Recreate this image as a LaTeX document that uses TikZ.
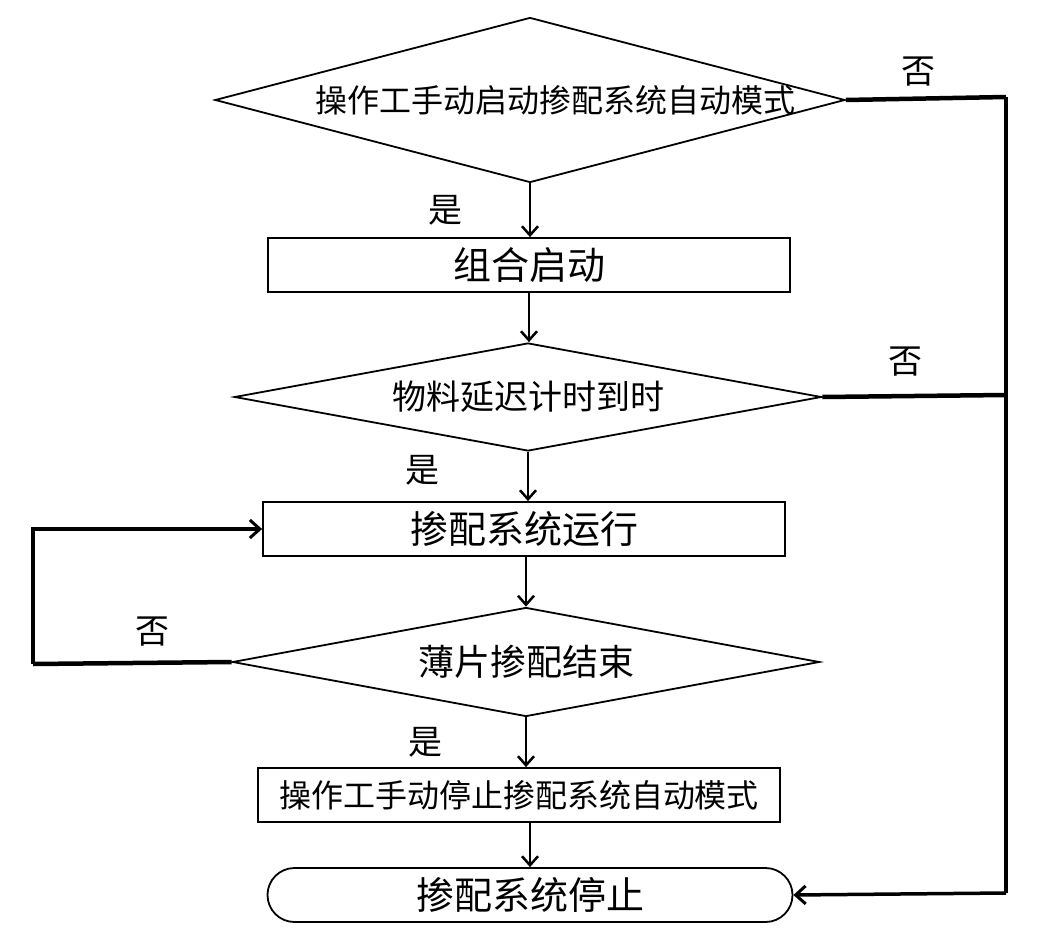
\documentclass[tikz,border=0pt]{standalone}
\usepackage{fontspec}
\setmainfont{Noto Sans CJK SC}
\usetikzlibrary{shapes.geometric,shapes.misc,arrows.meta}
\begin{document}
\begin{tikzpicture}[x=1pt,y=-1pt,
  decision/.style={diamond,draw,line width=1.8pt,inner sep=0pt,aspect=3.8},
  stepbox/.style={rectangle,draw,line width=1.8pt,inner sep=0pt,minimum width=522pt,minimum height=54pt},
  flow/.style={line width=2.5pt,-{Straight Barb[length=9pt,width=16pt,line width=2.5pt]}},
  loopline/.style={line width=4.5pt},
  loopflow/.style={line width=3.5pt,-{Straight Barb[length=10pt,width=18pt,line width=3pt]}},
  answer/.style={inner sep=0pt,font=\fontsize{34}{40}\selectfont}]
\path[use as bounding box] (0,0) rectangle (1045,942);
\node[decision,minimum width=630pt,minimum height=165pt,font=\fontsize{32}{38}\selectfont] (start) at (530,100) {\makebox[0pt]{\hspace*{50pt}操作工手动启动掺配系统自动模式}};
\node[stepbox,font=\fontsize{38}{44}\selectfont] (group) at (529,265) {组合启动};
\node[decision,aspect=5.4,minimum width=587pt,minimum height=108pt,font=\fontsize{34}{40}\selectfont] (delay) at (528,397) {物料延迟计时到时};
\node[stepbox,font=\fontsize{38}{44}\selectfont] (run) at (524,529) {掺配系统运行};
\node[decision,aspect=5.4,minimum width=587pt,minimum height=109pt,font=\fontsize{36}{42}\selectfont] (done) at (526,662) {薄片掺配结束};
\node[stepbox,font=\fontsize{32}{38}\selectfont] (halt) at (519,795) {操作工手动停止掺配系统自动模式};
\node[rounded rectangle,draw,line width=1.8pt,inner sep=0pt,minimum width=525pt,minimum height=54pt,font=\fontsize{38}{44}\selectfont] (stop) at (530,895) {掺配系统停止};
\node[answer] (yes1) at (445,210) {是};
\node[answer] (yes2) at (422,470) {是};
\node[answer] (yes3) at (425,742) {是};
\node[answer] (no1) at (918,72) {否};
\node[answer] (no2) at (905,362) {否};
\node[answer] (no3) at (152,632) {否};
\coordinate (rtop) at (1006,97);
\coordinate (rmid) at (1006,395);
\coordinate (rbot) at (1006,893);
\coordinate (lbot) at (33,664);
\draw[flow] (start.south) -- (start.south |- group.north);
\draw[flow] (group.south) -- (group.south |- delay.north);
\draw[flow] (delay.south) -- (delay.south |- run.north);
\draw[flow] (done.north |- run.south) -- (done.north);
\draw[flow] (done.south) -- (done.south |- halt.north);
\draw[flow] (stop.north |- halt.south) -- (stop.north);
\draw[loopline] (start.east) -- (rtop);
\draw[loopline] (delay.east) -- (rmid);
\draw[loopline] (rtop) -- (rbot);
\draw[loopflow] (rbot) -- (stop.east);
\draw[loopline] (done.west) -- (lbot);
\draw[loopflow] (lbot) |- (run.west);
\end{tikzpicture}
\end{document}
